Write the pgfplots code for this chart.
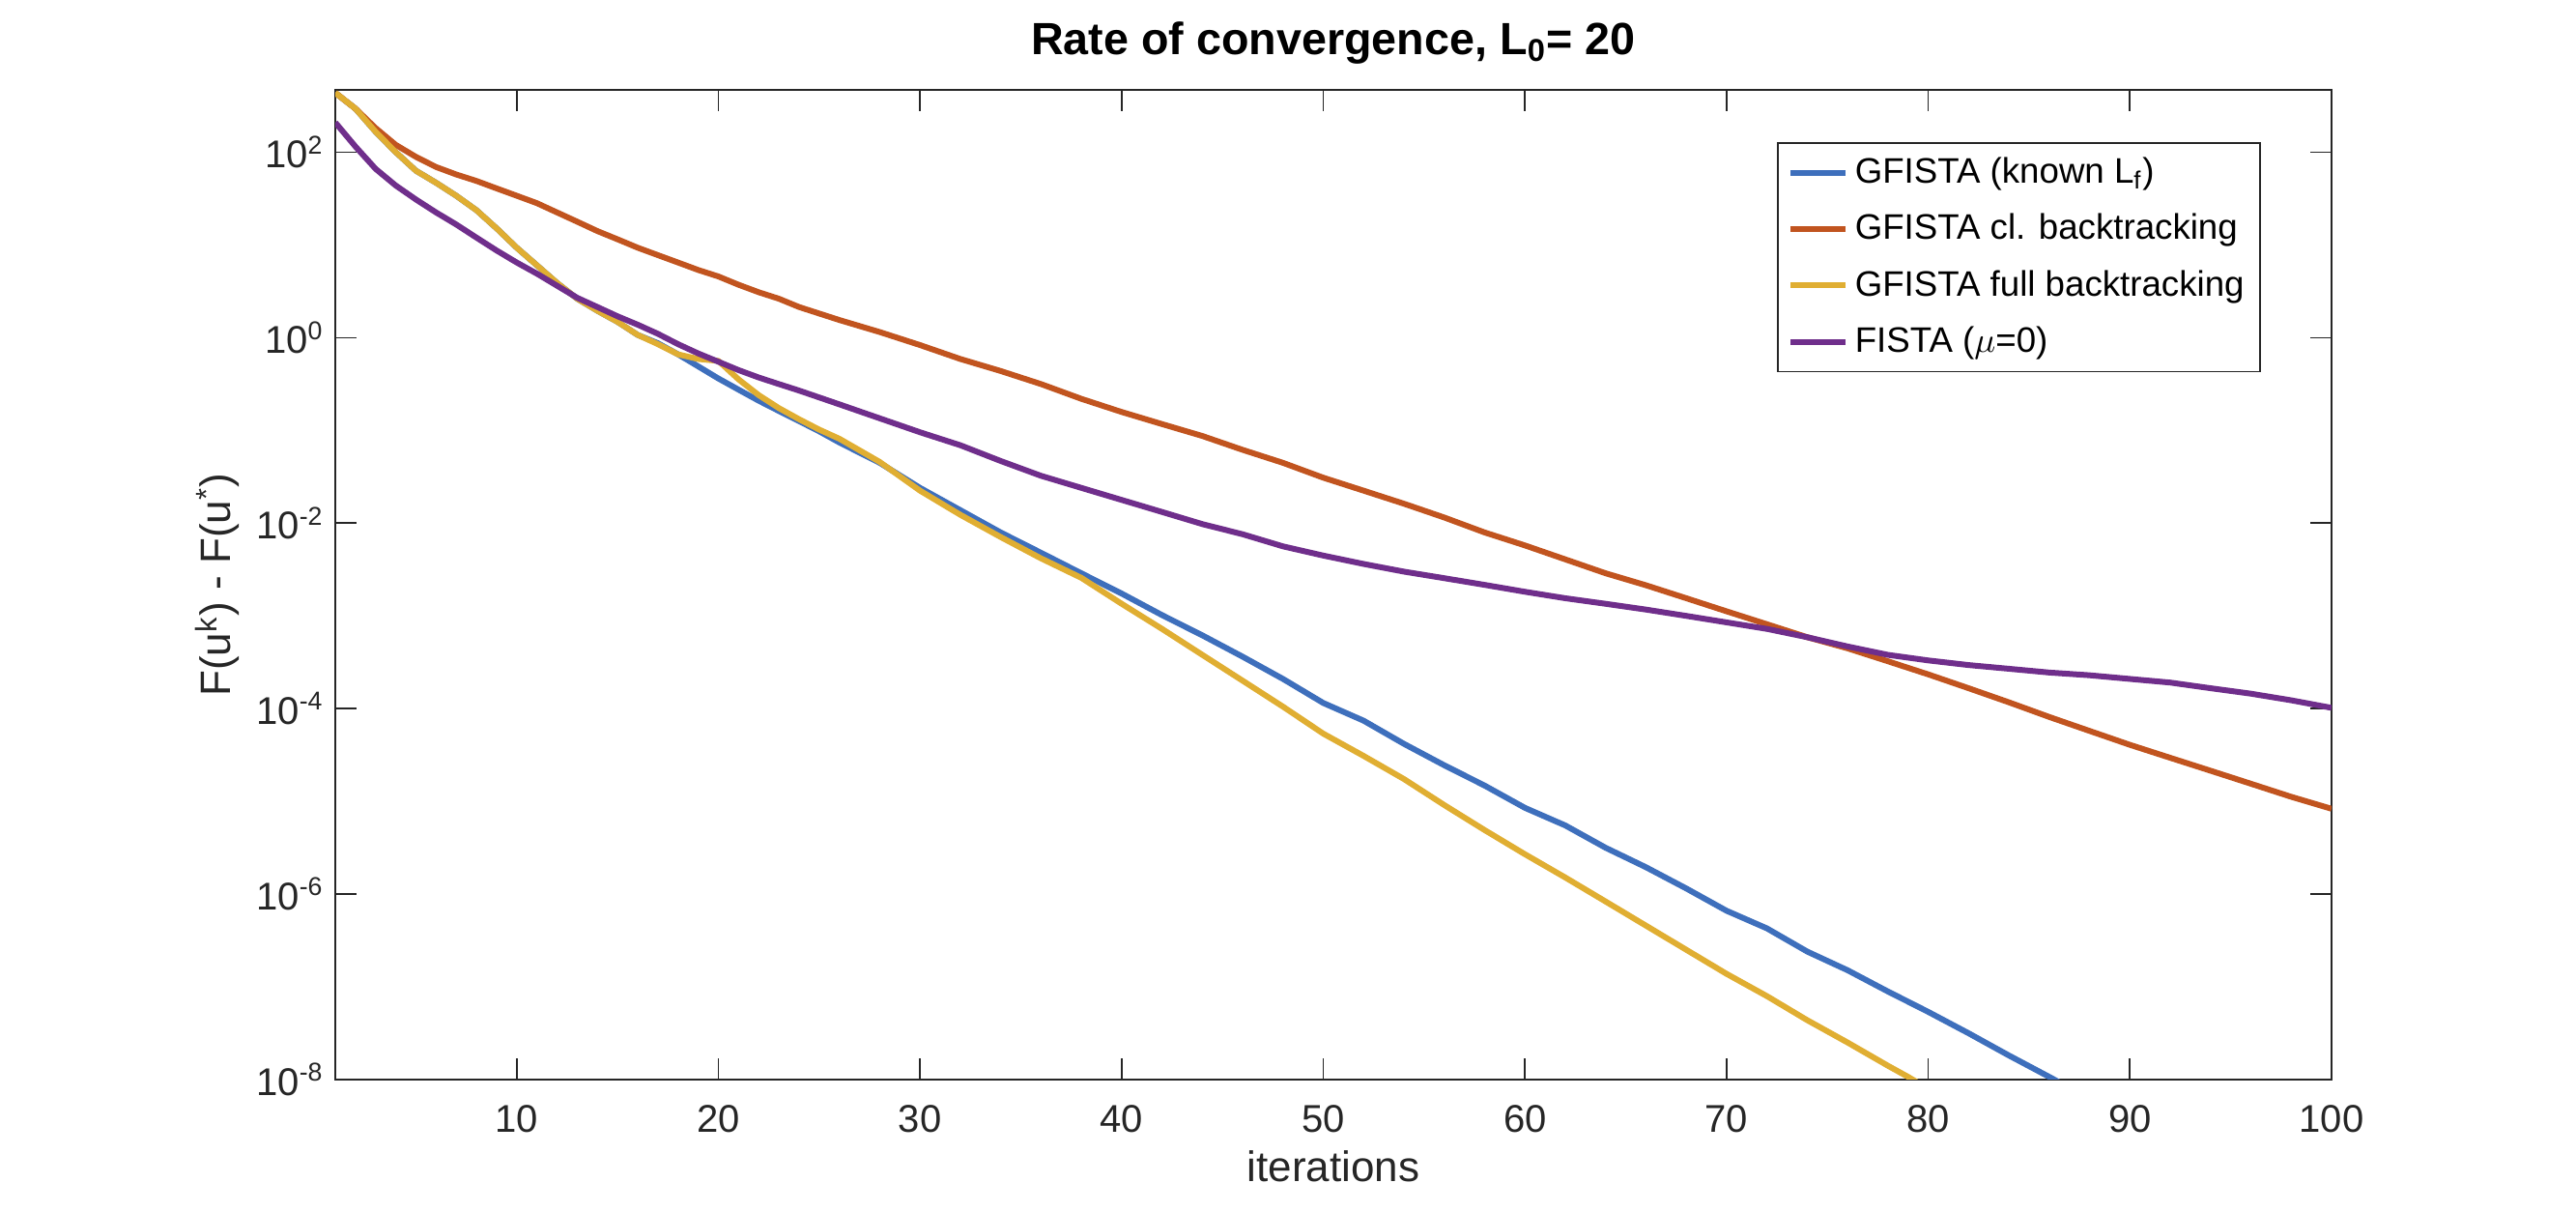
\documentclass[border=0pt]{standalone}
\usepackage{fontspec}
\setmainfont{Liberation Sans}
\usepackage{pgfplots}
\pgfplotsset{compat=1.18}

\definecolor{mblue}{RGB}{62,111,188}
\definecolor{morange}{RGB}{193,84,31}
\definecolor{myellow}{RGB}{224,174,50}
\definecolor{mpurple}{RGB}{111,46,139}
\definecolor{axgray}{RGB}{38,38,38}

\begin{document}
\begin{tikzpicture}
\begin{axis}[
  name=ax,
  scale only axis,
  width=619.8pt, height=307.2pt,
  ymode=log,
  xmin=1, xmax=100,
  ymin=1e-8, ymax=470,
  xtick={10,20,...,100},
  ytick={1e-8,1e-6,1e-4,1e-2,1,1e2},
  yticklabels={10\textsuperscript{-8},10\textsuperscript{-6},10\textsuperscript{-4},10\textsuperscript{-2},10\textsuperscript{0},10\textsuperscript{2}},
  yminorticks=false, xminorticks=false,
  tick align=inside,
  major tick length=6.5pt,
  axis line style={axgray, line width=0.5pt},
  every tick/.style={axgray, line width=0.5pt},
  ticklabel style={font=\fontsize{12}{14}\selectfont, text=axgray},
  /pgf/number format/assume math mode=true,
  xticklabel style={anchor=base, yshift=-16.5pt},
  title={Rate of convergence, L\textsubscript{0}= 20},
  title style={font=\fontsize{14}{16}\selectfont\bfseries, at={(axis description cs:0.5,1)}, anchor=base, yshift=5pt},
  xlabel={iterations},
  xlabel style={font=\fontsize{13.2}{15}\selectfont, text=axgray, at={(axis description cs:0.5,0)}, anchor=base, yshift=-31.8pt},
  ylabel={F(u\textsuperscript{k}) - F(u\textsuperscript{*})},
  ylabel style={font=\fontsize{13.2}{15}\selectfont, text=axgray, at={(axis description cs:-0.0523,0.5)}, anchor=base},
  legend style={at={(axis description cs:0.9647,0.947)}, anchor=north east, draw=axgray, line width=0.5pt, font=\fontsize{11}{13}\selectfont, row sep=4pt, inner xsep=3pt, inner ysep=2.5pt},
  legend cell align=left,
  every axis plot/.append style={line width=1.8pt, line join=round},
]

\addplot[color=mblue] coordinates {
(1,437)(2,295)(3,166)(4,100)(5,63.1)(6,46.8)(7,33.9)(8,23.7)(9,15.1)(10,9.33)
(11,6.03)(12,3.89)(13,2.63)(14,1.95)(15,1.48)(16,1.07)(17,0.871)(18,0.661)(19,0.490)(20,0.363)
(21,0.275)(22,0.209)(23,0.162)(24,0.126)(25,0.0977)(26,0.0741)(28,0.0447)(30,0.0240)(32,0.0138)(34,0.00794)
(36,0.00479)(38,0.00288)(40,0.00174)(42,0.00102)(44,6.17e-4)(46,3.63e-4)(48,2.09e-4)(50,1.15e-4)(52,7.41e-5)(54,4.17e-5)
(56,2.45e-5)(58,1.48e-5)(60,8.51e-6)(62,5.50e-6)(64,3.16e-6)(66,1.95e-6)(68,1.15e-6)(70,6.61e-7)(72,4.27e-7)(74,2.40e-7)
(76,1.51e-7)(78,8.91e-8)(80,5.37e-8)(82,3.16e-8)(84,1.82e-8)(86,1.07e-8)(87,8.13e-9)
};
\addlegendentry{GFISTA (known L\textsubscript{f})}

\addplot[color=morange] coordinates {
(1,437)(2,295)(3,182)(4,120)(5,89.1)(6,69.2)(7,57.5)(8,49.0)(9,40.7)(10,33.9)
(11,28.2)(12,22.4)(13,17.8)(14,14.1)(15,11.5)(16,9.33)(17,7.76)(18,6.46)(19,5.37)(20,4.57)
(21,3.72)(22,3.09)(23,2.63)(24,2.14)(26,1.55)(28,1.15)(30,0.832)(32,0.589)(34,0.437)(36,0.316)
(38,0.219)(40,0.158)(42,0.117)(44,0.0871)(46,0.0617)(48,0.0447)(50,0.0309)(52,0.0224)(54,0.0162)(56,0.0115)
(58,0.00794)(60,0.00575)(62,0.00407)(64,0.00288)(66,0.00214)(68,0.00155)(70,0.00112)(72,8.13e-4)(74,5.89e-4)(76,4.47e-4)
(78,3.24e-4)(80,2.34e-4)(82,1.66e-4)(84,1.17e-4)(86,8.13e-5)(88,5.75e-5)(90,4.07e-5)(92,2.95e-5)(94,2.14e-5)(96,1.55e-5)
(98,1.12e-5)(100,8.32e-6)
};
\addlegendentry{GFISTA cl. backtracking}

\addplot[color=myellow] coordinates {
(1,437)(2,295)(3,166)(4,100)(5,63.1)(6,46.8)(7,33.9)(8,23.7)(9,15.1)(10,9.33)
(11,6.03)(12,3.89)(13,2.63)(14,1.95)(15,1.48)(16,1.07)(17,0.851)(18,0.661)(19,0.589)(20,0.562)
(21,0.355)(22,0.240)(23,0.174)(24,0.132)(25,0.102)(26,0.0813)(28,0.0457)(30,0.0224)(32,0.0123)(34,0.00708)
(36,0.00417)(38,0.00257)(40,0.00135)(42,7.24e-4)(44,3.80e-4)(46,2.00e-4)(48,1.05e-4)(50,5.37e-5)(52,3.09e-5)(54,1.74e-5)
(56,9.12e-6)(58,4.90e-6)(60,2.69e-6)(62,1.51e-6)(64,8.32e-7)(66,4.57e-7)(68,2.51e-7)(70,1.38e-7)(72,7.94e-8)(74,4.37e-8)
(76,2.51e-8)(78,1.41e-8)(79,1.07e-8)(80,7.94e-9)
};
\addlegendentry{GFISTA full backtracking}

\addplot[color=mpurple] coordinates {
(1,209)(2,115)(3,66.1)(4,43.7)(5,30.9)(6,22.4)(7,16.6)(8,12.0)(9,8.71)(10,6.46)
(11,4.90)(12,3.63)(13,2.69)(14,2.14)(15,1.70)(16,1.38)(17,1.10)(18,0.851)(19,0.676)(20,0.550)
(21,0.447)(22,0.372)(23,0.316)(24,0.269)(26,0.191)(28,0.135)(30,0.0955)(32,0.0692)(34,0.0468)(36,0.0324)
(38,0.0240)(40,0.0178)(42,0.0132)(44,0.00977)(46,0.00759)(48,0.00562)(50,0.00447)(52,0.00363)(54,0.00300)(56,0.00255)
(58,0.00216)(60,0.00182)(62,0.00155)(64,0.00135)(66,0.00117)(68,0.001)(70,8.51e-4)(72,7.24e-4)(74,5.89e-4)(76,4.68e-4)
(78,3.80e-4)(80,3.31e-4)(82,2.95e-4)(84,2.69e-4)(86,2.45e-4)(88,2.29e-4)(90,2.09e-4)(92,1.91e-4)(94,1.66e-4)(96,1.45e-4)
(98,1.23e-4)(100,1.02e-4)
};
\addlegendentry{FISTA ($\mu$=0)}
\end{axis}
% white margin of the original figure
\path ([xshift=-104.1pt,yshift=-41.1pt]ax.south west) rectangle ++(799.8pt,376.2pt);
\end{tikzpicture}
\end{document}
